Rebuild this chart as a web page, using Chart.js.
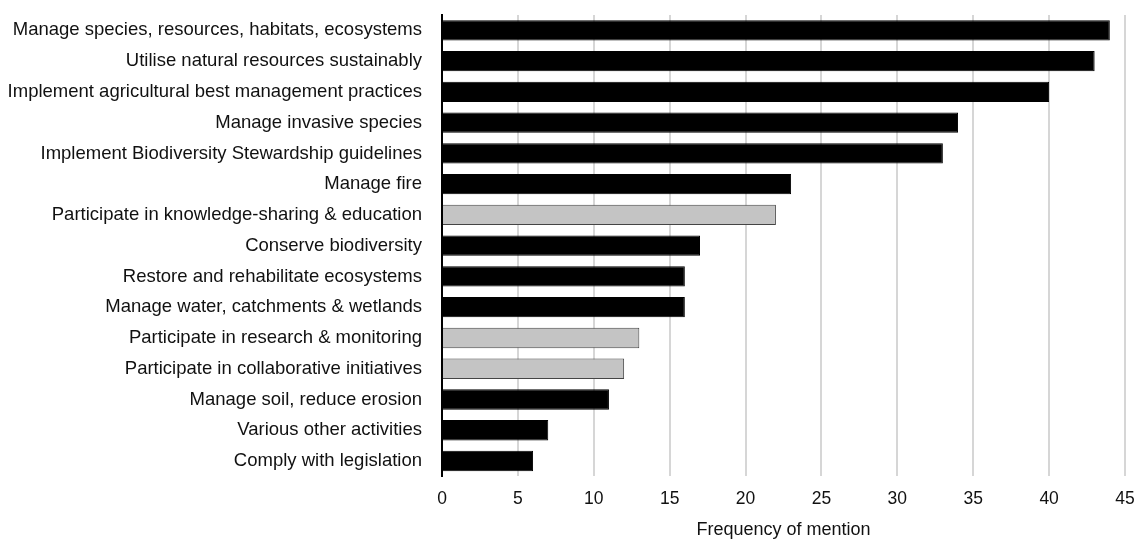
<!DOCTYPE html>
<html>
<head>
<meta charset="utf-8">
<script src="https://cdn.jsdelivr.net/npm/chart.js@4"></script>
<style>
  html, body { margin: 0; padding: 0; background: #fff; }
  #wrap { width: 1138px; height: 544px; }
</style>
</head>
<body>
<div id="wrap"><canvas id="myChart" width="1138" height="544"></canvas></div>
<script>
const labels = [
  "Manage species, resources, habitats, ecosystems",
  "Utilise natural resources sustainably",
  "Implement agricultural best management practices",
  "Manage invasive species",
  "Implement Biodiversity Stewardship guidelines",
  "Manage fire",
  "Participate in knowledge-sharing & education",
  "Conserve biodiversity",
  "Restore and rehabilitate ecosystems",
  "Manage water, catchments & wetlands",
  "Participate in research & monitoring",
  "Participate in collaborative initiatives",
  "Manage soil, reduce erosion",
  "Various other activities",
  "Comply with legislation",
];

const mentions = [44, 43, 40, 34, 33, 23, 22, 17, 16, 16, 13, 12, 11, 7, 6];

// grey bars = participation-type activities
const participation = [false, false, false, false, false, false, true, false, false, false, true, true, false, false, false];

const fontFamily = "Liberation Sans, Arial, sans-serif";

const data = {
  labels: labels,
  datasets: [
    {
      label: "Frequency of mention",
      data: mentions,
      backgroundColor: participation.map((p) => (p ? "#c4c4c4" : "#000000")),
      borderColor: participation.map((p) => (p ? "#444444" : "#000000")),
      borderWidth: 1,
      categoryPercentage: 1.0,
      barPercentage: 0.66,
    },
  ],
};

const config = {
  type: "bar",
  data: data,
  options: {
    indexAxis: "y",
    responsive: false,
    animation: false,
    layout: { padding: { top: 15, right: 13, left: 0, bottom: 3 } },
    plugins: {
      legend: { display: false },
      tooltip: { enabled: false },
    },
    scales: {
      x: {
        min: 0,
        max: 45,
        ticks: {
          stepSize: 5,
          color: "#111",
          padding: 12,
          font: { family: fontFamily, size: 17.5 },
        },
        grid: { color: "#d6d6d6", lineWidth: 2, drawTicks: false },
        border: { display: false },
        title: {
          display: true,
          text: "Frequency of mention",
          color: "#111",
          padding: { top: -2, bottom: 0 },
          font: { family: fontFamily, size: 18 },
        },
        afterFit: (scale) => {
          scale.paddingLeft = 0;
          scale.paddingRight = 0;
        },
      },
      y: {
        ticks: {
          color: "#111",
          padding: 20,
          font: { family: fontFamily, size: 18.5 },
        },
        grid: { display: false, drawTicks: false },
        border: { display: true, color: "#000", width: 2 },
        afterFit: (scale) => {
          scale.width = 442;
          scale.paddingTop = 0;
          scale.paddingBottom = 0;
        },
      },
    },
  },
};

const barChart = new Chart(document.getElementById("myChart"), config);
</script>
</body>
</html>
